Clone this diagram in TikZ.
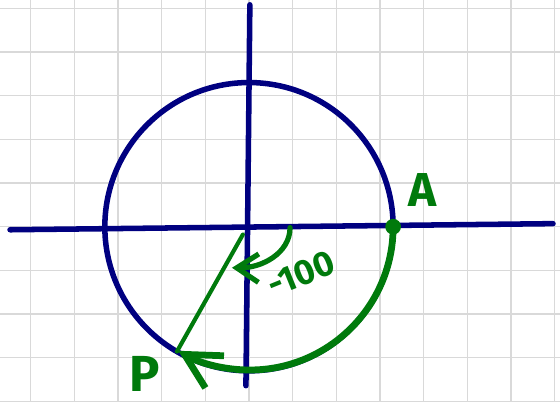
\documentclass[tikz,border=0pt]{standalone}
\usepackage{fontspec}
\setsansfont{Fira Sans}
\usetikzlibrary{arrows.meta}
\usepackage{xcolor}
\definecolor{Navy}{HTML}{000080}
\definecolor{Leaf}{HTML}{007A0C}
\definecolor{GridGray}{HTML}{D9D9D9}

\begin{document}
\begin{tikzpicture}[
    axis/.style={draw=Navy,line width=3.6pt,line cap=round},
    turn/.style={draw=Leaf,line width=4.4pt,line cap=round},
    hand/.style={Leaf,inner sep=0pt,font=\sffamily\bfseries\fontsize{31}{31}\selectfont}]
  \useasboundingbox (-5.70,-4.00) rectangle (7.12,5.19);
  \draw[GridGray,line width=0.9pt] (-5.70,-4.00) grid (7.12,5.19);

  % axes and unit circle
  \coordinate (O) at (0,0);
  \coordinate (xl) at (-5.47,-0.07);
  \coordinate (xr) at (6.96,0.07);
  \coordinate (yt) at (0.02,5.08);
  \coordinate (yb) at (-0.07,-3.64);
  \draw[axis] (xl) -- (xr);
  \draw[axis] (yt) -- (yb);
  \draw[Navy,line width=3.6pt] (O) circle (3.3);

  % points and labels
  \node[circle,fill=Leaf,inner sep=0pt,minimum size=0.36cm] (A) at (0:3.3) {};
  \coordinate (P) at (-120:3.3);
  \node[hand] (labA) at (3.98,0.85) {A};
  \node[hand,font=\sffamily\bfseries\fontsize{33}{33}\selectfont] (labP) at (-2.38,-3.36) {P};
  \node[hand,font=\sffamily\bfseries\fontsize{23}{23}\selectfont,rotate=22] (ang) at (1.2,-1.08) {-100};

  % ray, turning arrows
  \coordinate (rs) at (-0.14,-0.18);
  \draw[Leaf,line width=2.7pt,line cap=round] (rs) -- (P);
  \draw[turn,-{Straight Barb[length=0.8cm,width=0.85cm]}]
    (A.center) arc[start angle=0,end angle=-120,radius=3.28];
  \coordinate (ts) at (0.94,-0.02);
  \coordinate (te) at (-0.39,-0.94);
  \draw[turn,line width=3.4pt,-{Straight Barb[length=0.5cm,width=0.65cm]}]
    (ts) .. controls (0.94,-0.6) and (0.3,-0.95) .. (te);
\end{tikzpicture}
\end{document}
